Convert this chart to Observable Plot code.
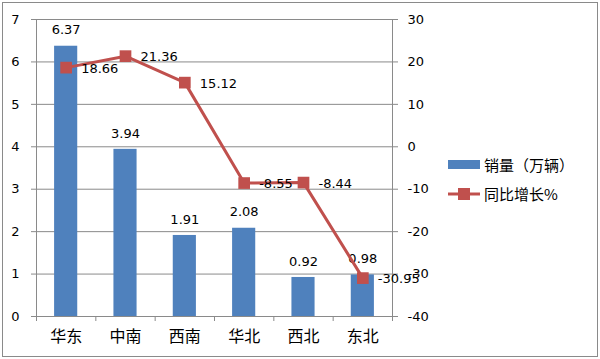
<!DOCTYPE html>
<html><head><meta charset="utf-8">
<script src="https://cdn.jsdelivr.net/npm/d3@7"></script>
<script src="https://cdn.jsdelivr.net/npm/@observablehq/plot@0.6"></script>
<style>
body{margin:0;background:#fff;}
#wrap{position:relative;width:600px;height:359px;}
#wrap svg.plot{outline:1px solid #8a8a8a;outline-offset:-3px;}
.lg{position:absolute;left:448px;font:15px "Noto Sans CJK SC",sans-serif;color:#000;display:flex;align-items:center;white-space:nowrap;}
</style></head>
<body><div id="wrap"></div>
<script>
const regions = ["华东","中南","西南","华北","西北","东北"];
const sales = [6.37, 3.94, 1.91, 2.08, 0.92, 0.98];
const growth = [18.66, 21.36, 15.12, -8.55, -8.44, -30.95];
const leftTicks = [0,1,2,3,4,5,6,7];
const rightTicks = [-40,-30,-20,-10,0,10,20,30];
const seriesNames = ["销量（万辆）","同比增长%"];

const BLUE = "#4F81BD", RED = "#C0504D", GRID = "#8a8a8a";
const toLeft = g => (g + 40) / 10;  // right axis [-40,30] -> left [0,7]

const data = regions.map((r,i) => ({i, r, s: sales[i], g: growth[i], gy: toLeft(growth[i])}));
const bounds = d3.range(-0.5, regions.length, 1);
const font = "DejaVu Sans, sans-serif";

const chart = Plot.plot({
  width: 600, height: 359,
  marginLeft: 36, marginRight: 208, marginTop: 19, marginBottom: 43,
  style: {fontFamily: font, fontSize: "13px", color: "#000", background: "#fff"},
  x: {type: "linear", domain: [-0.5, regions.length - 0.5], axis: null, label: null},
  y: {domain: [0, 7], axis: null, label: null},
  marks: [
    Plot.ruleY(leftTicks, {stroke: GRID, strokeWidth: 1}),
    Plot.frame({stroke: GRID}),
    Plot.axisY(leftTicks, {anchor: "left", label: null, tickSize: 5, tickPadding: 12, stroke: GRID, fill: "#000", fontSize: 13}),
    Plot.axisY(rightTicks.map(toLeft), {anchor: "right", label: null, tickSize: 5, tickPadding: 10, stroke: GRID, fill: "#000", fontSize: 13,
      tickFormat: v => String(Math.round(v * 10 - 40))}),
    Plot.axisX(bounds, {anchor: "bottom", label: null, tickSize: 5, tickFormat: () => "", stroke: GRID}),
    Plot.axisX(data.map(d => d.i), {anchor: "bottom", label: null, tickSize: 0, tickPadding: 14, fontSize: 16,
      fontFamily: "Noto Sans CJK SC, sans-serif", fill: "#000", tickFormat: i => regions[i]}),
    Plot.rectY(data, {x1: d => d.i - 0.195, x2: d => d.i + 0.195, y1: 0, y2: "s", fill: BLUE}),
    Plot.text(data, {x: "i", y: "s", text: d => d.s.toFixed(2), dy: -16, fill: "#000", fontSize: 13}),
    Plot.line(data, {x: "i", y: "gy", stroke: RED, strokeWidth: 3}),
    Plot.dot(data, {x: "i", y: "gy", symbol: "square", r: 6.6, fill: RED, stroke: "none"}),
    Plot.text(data, {x: "i", y: "gy", text: d => d.g.toFixed(2), dx: 15, dy: 1, textAnchor: "start", fill: "#000", fontSize: 13})
  ]
});
chart.classList.add("plot");
const wrap = document.getElementById("wrap");
wrap.appendChild(chart);

const l1 = document.createElement("div");
l1.className = "lg"; l1.style.top = "153px";
l1.innerHTML = `<svg width="36" height="22"><rect x="0" y="7" width="32" height="9" fill="${BLUE}"/></svg><span>${seriesNames[0]}</span>`;
const l2 = document.createElement("div");
l2.className = "lg"; l2.style.top = "182px";
l2.innerHTML = `<svg width="36" height="22"><line x1="0" x2="32" y1="12" y2="12" stroke="${RED}" stroke-width="3"/><rect x="10" y="6" width="12" height="12" fill="${RED}"/></svg><span>${seriesNames[1]}</span>`;
wrap.appendChild(l1); wrap.appendChild(l2);
</script></body></html>
